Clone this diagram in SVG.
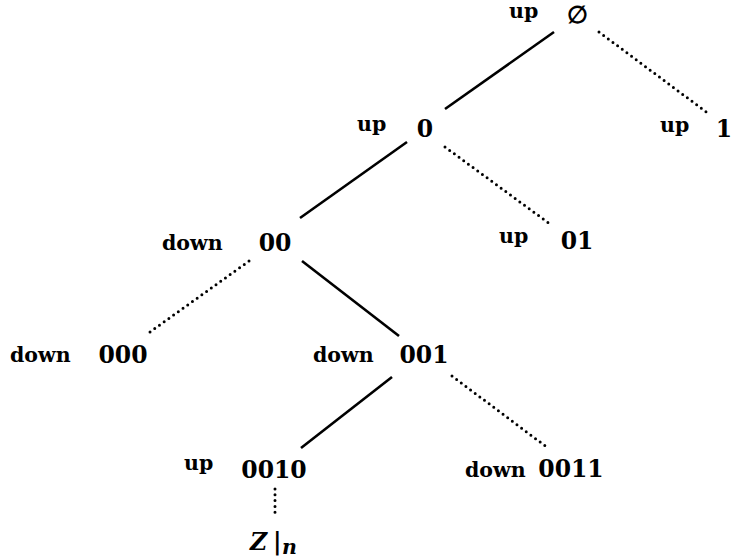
<svg xmlns="http://www.w3.org/2000/svg" width="733" height="560" viewBox="0 0 733 560">
<style>
.n{font-family:"DejaVu Serif","Liberation Serif",serif;font-weight:bold;font-size:23.5px;fill:#000}
.l{font-family:"DejaVu Serif","Liberation Serif",serif;font-weight:bold;font-size:20.5px;fill:#000}
.s{stroke:#000;stroke-width:2.6;fill:none}
.d{stroke:#000;stroke-width:3;fill:none;stroke-dasharray:0 5.8;stroke-linecap:round}
</style>
<rect width="733" height="560" fill="#fff"/>
<g id="connectors">
<line class="s" x1="554" y1="32" x2="445" y2="109"/>
<line class="d" x1="599" y1="32" x2="709" y2="114"/>
<line class="s" x1="407" y1="142" x2="300" y2="218"/>
<line class="d" x1="445" y1="147" x2="550" y2="224"/>
<line class="d" x1="249" y1="261" x2="150" y2="332"/>
<line class="s" x1="302" y1="261" x2="399" y2="336"/>
<line class="s" x1="392" y1="377" x2="301" y2="448"/>
<line class="d" x1="452" y1="376" x2="548" y2="448"/>
<line class="d" x1="275" y1="489" x2="275" y2="515"/>
</g>
<g id="root"><text class="l" x="509" y="18">up</text><text class="n" x="577" y="23" text-anchor="middle">∅</text></g>
<g id="n1"><text class="l" x="660" y="132">up</text><text class="n" x="724" y="137" text-anchor="middle">1</text></g>
<g id="n0"><text class="l" x="357" y="131">up</text><text class="n" x="425" y="137" text-anchor="middle">0</text></g>
<g id="n01"><text class="l" x="499" y="243">up</text><text class="n" x="577" y="249" text-anchor="middle">01</text></g>
<g id="n00"><text class="l" x="162" y="250">down</text><text class="n" x="275" y="251" text-anchor="middle">00</text></g>
<g id="n000"><text class="l" x="10" y="362">down</text><text class="n" x="123" y="363" text-anchor="middle">000</text></g>
<g id="n001"><text class="l" x="313" y="362">down</text><text class="n" x="424" y="363" text-anchor="middle">001</text></g>
<g id="n0010"><text class="l" x="184" y="470">up</text><text class="n" x="274" y="478" text-anchor="middle">0010</text></g>
<g id="n0011"><text class="l" x="465" y="477">down</text><text class="n" x="571" y="477" text-anchor="middle">0011</text></g>
<g id="zn"><text class="n" x="250" y="550" font-style="italic">Z</text><text class="n" x="273" y="550" font-weight="normal">|</text><text class="l" x="282" y="554" font-style="italic">n</text></g>
</svg>
